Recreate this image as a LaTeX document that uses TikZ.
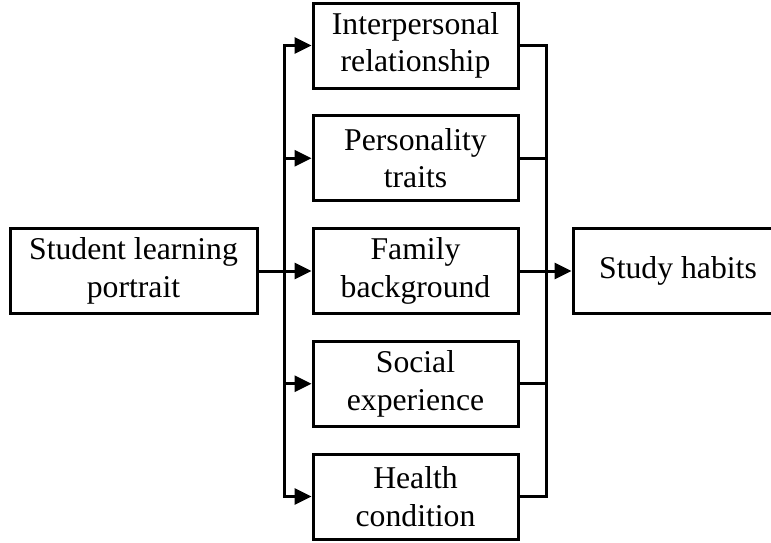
\documentclass[tikz,border=0pt]{standalone}
\usepackage{fontspec}
\setmainfont{Liberation Serif}
\usetikzlibrary{arrows.meta}
\begin{document}
\begin{tikzpicture}[x=1pt,y=-1pt,
  box/.style={draw,line width=3pt,align=center,inner sep=0pt,
    minimum width=205pt,minimum height=85pt,
    font=\fontsize{31.7}{37.5}\selectfont},
  conn/.style={line width=3pt},
  arr/.style={conn,-{Triangle[length=17pt,width=16pt]}}]
\clip (0,0) rectangle (771,542);
\node[box,minimum width=247pt] (L) at (133.5,271) {Student learning\\portrait};
\node[box] (M1) at (415.5,45.5) {Interpersonal\\relationship};
\node[box] (M2) at (415.5,158.25) {Personality\\traits};
\node[box] (M3) at (415.5,271) {Family\\background};
\node[box] (M4) at (415.5,383.75) {Social\\experience};
\node[box] (M5) at (415.5,496.5) {Health\\condition};
\node[box,minimum width=210pt] (S) at (678,271) {Study habits};
\coordinate (b1) at (284,45.5);
\coordinate (b2) at (284,158.25);
\coordinate (b4) at (284,383.75);
\coordinate (b5) at (284,496.5);
\coordinate (c1) at (546,45.5);
\coordinate (c5) at (546,496.5);
\draw[arr] (b5) |- (M1.west);
\draw[arr] (b1) |- (M5.west);
\draw[arr] (b2) -- (M2.west);
\draw[arr] (b4) -- (M4.west);
\draw[arr] (L.east) -- (M3.west);
\draw[conn] (M1.east) -| (c5) -- (M5.east);
\draw[conn] (M2.east) -- (M2.east -| c1);
\draw[conn] (M4.east) -- (M4.east -| c1);
\draw[arr] (M3.east) -- (S.west);
\end{tikzpicture}
\end{document}
